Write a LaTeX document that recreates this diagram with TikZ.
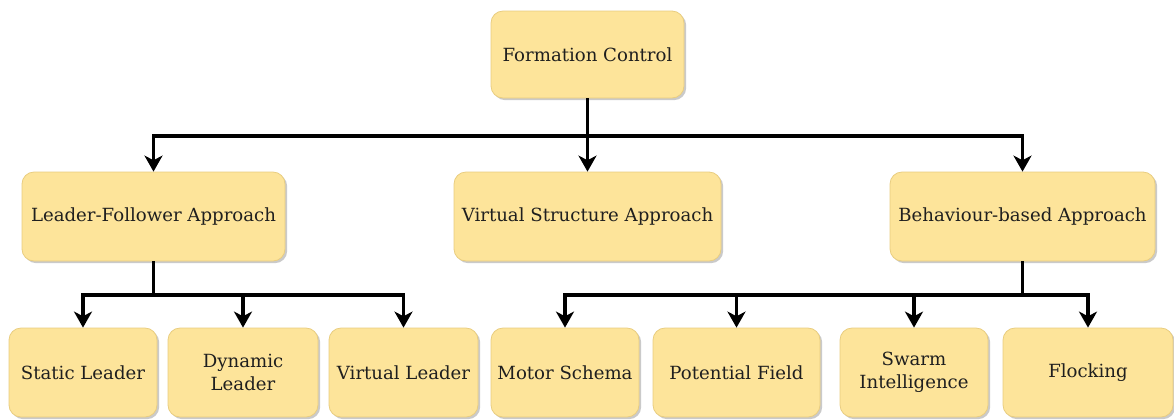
\documentclass[tikz,border=0pt]{standalone}
\usepackage{fontspec}
\setmainfont{DejaVu Serif}
\usetikzlibrary{arrows.meta,shadows}
\definecolor{boxfill}{HTML}{FDE49A}
\definecolor{boxline}{HTML}{E9CD80}
\begin{document}
\begin{tikzpicture}[x=0.75pt,y=-0.75pt,
  box/.style={draw=boxline, line width=0.6pt, fill=boxfill, rounded corners=9pt,
    align=center, inner sep=0pt, text=black!88, font=\fontsize{13.6pt}{17pt}\selectfont,
    drop shadow={shadow xshift=1.6pt, shadow yshift=-1.6pt, fill=black!35, opacity=0.6}},
  link/.style={line width=2.3pt, draw=black},
  arr/.style={link, -{Stealth[length=12pt,width=13.5pt,inset=3.5pt]}}]
\useasboundingbox (0,0) rectangle (1174,419);
\node[box, minimum width=193*0.75pt, minimum height=87*0.75pt] (fc) at (587.5,54.5) {Formation Control};
\node[box, minimum width=263*0.75pt, minimum height=89*0.75pt] (lf) at (153.5,216.5) {Leader-Follower Approach};
\node[box, minimum width=267*0.75pt, minimum height=89*0.75pt] (vs) at (587.5,216.5) {Virtual Structure Approach};
\node[box, minimum width=265*0.75pt, minimum height=89*0.75pt] (bb) at (1022.5,216.5) {Behaviour-based Approach};
\node[box, minimum width=148*0.75pt, minimum height=89*0.75pt] (sl) at (83,372.5) {Static Leader};
\node[box, minimum width=150*0.75pt, minimum height=89*0.75pt] (dl) at (243,372.5) {Dynamic\\Leader};
\node[box, minimum width=149*0.75pt, minimum height=89*0.75pt] (vl) at (403.5,372.5) {Virtual Leader};
\node[box, minimum width=148*0.75pt, minimum height=89*0.75pt] (ms) at (565,372.5) {Motor Schema};
\node[box, minimum width=167*0.75pt, minimum height=89*0.75pt] (pf) at (736.5,372.5) {Potential Field};
\node[box, minimum width=148*0.75pt, minimum height=89*0.75pt] (si) at (914,372.5) {Swarm\\Intelligence};
\node[box, minimum width=170*0.75pt, minimum height=89*0.75pt] (fl) at (1088,372.5) {Flocking};
\coordinate (j1) at (587.5,136);
\coordinate (j2) at (153.5,295);
\coordinate (j3) at (1022.5,295);
\draw[link] (fc.south) -- (j1);
\draw[arr] (j1) -| (lf.north);
\draw[arr] (j1) -- (vs.north);
\draw[arr] (j1) -| (bb.north);
\draw[link] (lf.south) -- (j2);
\draw[arr] (j2) -| (sl.north);
\draw[arr] (j2) -| (dl.north);
\draw[arr] (j2) -| (vl.north);
\draw[link] (bb.south) -- (j3);
\draw[arr] (j3) -| (ms.north);
\draw[arr] (j3) -| (pf.north);
\draw[arr] (j3) -| (si.north);
\draw[arr] (j3) -| (fl.north);
\end{tikzpicture}
\end{document}
